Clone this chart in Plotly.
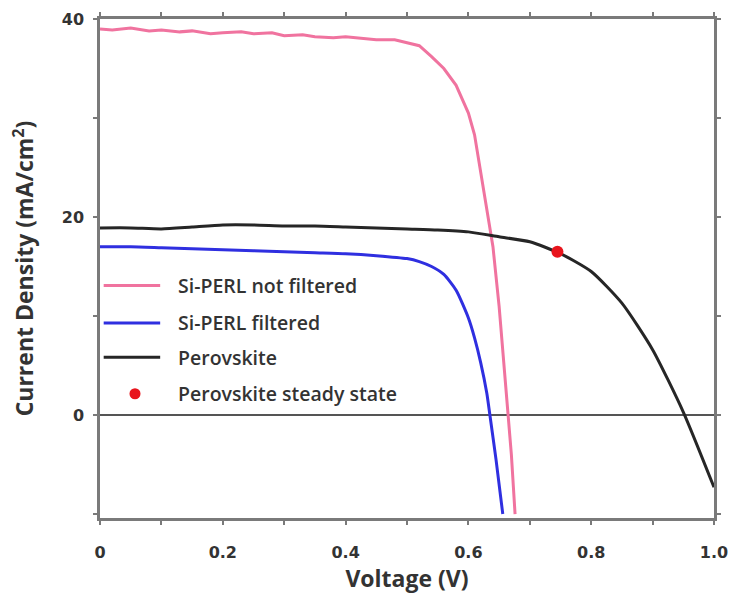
import plotly.graph_objects as go

# J-V curves (voltage in V, current density in mA/cm^2)
v_not_filtered = [0, 0.02, 0.05, 0.08, 0.1, 0.13, 0.15, 0.18, 0.2, 0.23, 0.25, 0.28, 0.3, 0.33,
                  0.35, 0.38, 0.4, 0.43, 0.45, 0.48, 0.5, 0.52, 0.54, 0.56, 0.58, 0.6, 0.61,
                  0.62, 0.63, 0.64, 0.65, 0.66, 0.665, 0.67, 0.676]
j_not_filtered = [39.0, 38.9, 39.1, 38.8, 38.9, 38.7, 38.8, 38.5, 38.6, 38.7, 38.5, 38.6, 38.3, 38.4,
                  38.2, 38.1, 38.2, 38.0, 37.9, 37.9, 37.6, 37.3, 36.2, 35.0, 33.3, 30.5, 28.3,
                  24.5, 20.5, 17.0, 11.0, 3.5, 0.0, -4.0, -10.0]

v_filtered = [0, 0.05, 0.1, 0.15, 0.2, 0.25, 0.3, 0.35, 0.4, 0.45, 0.5, 0.52, 0.54, 0.56,
              0.58, 0.6, 0.61, 0.62, 0.63, 0.635, 0.645, 0.656]
j_filtered = [17.0, 17.0, 16.9, 16.8, 16.7, 16.6, 16.5, 16.4, 16.3, 16.1, 15.8, 15.5, 15.0, 14.2,
              12.6, 9.8, 7.8, 5.3, 2.2, 0.0, -4.5, -10.0]

v_perovskite = [0, 0.05, 0.1, 0.15, 0.2, 0.25, 0.3, 0.35, 0.4, 0.45, 0.5, 0.55, 0.6, 0.65,
                0.7, 0.75, 0.8, 0.85, 0.9, 0.95, 1.0]
j_perovskite = [18.9, 18.9, 18.8, 19.0, 19.2, 19.2, 19.1, 19.1, 19.0, 18.9, 18.8, 18.7, 18.5, 18.0,
                17.5, 16.3, 14.5, 11.3, 6.6, 0.3, -7.3]

v_steady = [0.745]
j_steady = [16.5]

x_tickvals = [0, 0.1, 0.2, 0.3, 0.4, 0.5, 0.6, 0.7, 0.8, 0.9, 1.0]
x_ticktext = ["0", "", "0.2", "", "0.4", "", "0.6", "", "0.8", "", "1.0"]
y_tickvals = [-10, 0, 10, 20, 30, 40]
y_ticktext = ["", "0", "", "20", "", "40"]

legend_names = ["Si-PERL not filtered", "Si-PERL filtered", "Perovskite", "Perovskite steady state"]

PINK = "#f0739f"
BLUE = "#2f2fe0"
BLACK = "#262626"
RED = "#e8141c"
AXIS = "#7a7a7a"
TEXT = "#333333"

fig = go.Figure()
fig.add_trace(go.Scatter(x=v_not_filtered, y=j_not_filtered, mode="lines",
                         line=dict(color=PINK, width=3), name=legend_names[0]))
fig.add_trace(go.Scatter(x=v_filtered, y=j_filtered, mode="lines",
                         line=dict(color=BLUE, width=3, shape="spline", smoothing=0.6),
                         name=legend_names[1]))
fig.add_trace(go.Scatter(x=v_perovskite, y=j_perovskite, mode="lines",
                         line=dict(color=BLACK, width=3, shape="spline", smoothing=0.6),
                         name=legend_names[2]))
fig.add_trace(go.Scatter(x=v_steady, y=j_steady, mode="markers",
                         marker=dict(color=RED, size=12), name=legend_names[3]))

# Hand-drawn legend inside the plot area (paper coordinates)
legend_rows = [0.466, 0.391, 0.322, 0.249]
legend_font = dict(family="Open Sans", size=19.5, color=TEXT, weight=600)
for i, (name, yp) in enumerate(zip(legend_names, legend_rows)):
    if i < 3:
        color = [PINK, BLUE, BLACK][i]
        fig.add_shape(type="line", xref="paper", yref="paper",
                      x0=0.006, x1=0.098, y0=yp, y1=yp,
                      line=dict(color=color, width=3))
    else:
        fig.add_shape(type="circle", xref="paper", yref="paper",
                      x0=0.048, x1=0.066, y0=yp - 0.011, y1=yp + 0.011,
                      fillcolor=RED, line=dict(color=RED, width=0))
    fig.add_annotation(xref="paper", yref="paper", x=0.124, y=yp, text=name,
                       showarrow=False, xanchor="left", yanchor="middle", font=legend_font)

tick_font = dict(family="DejaVu Sans", size=16, color=TEXT, weight="bold")
title_font = dict(family="Open Sans", size=23, color=TEXT, weight="bold")

fig.update_layout(
    width=729, height=596,
    margin=dict(l=100, r=15, t=19, b=78),
    paper_bgcolor="white", plot_bgcolor="white",
    showlegend=False,
    xaxis=dict(range=[0, 1.0], tickvals=x_tickvals, ticktext=x_ticktext, automargin=False,
               showgrid=False, zeroline=False, showline=True, linecolor=AXIS, linewidth=2.5,
               mirror="allticks", ticks="outside", ticklen=4, tickwidth=2, tickcolor=AXIS,
               tickfont=tick_font, ticklabelstandoff=14,
               title=dict(text="Voltage (V)", font=title_font, standoff=6)),
    yaxis=dict(range=[-10.4, 40], tickvals=y_tickvals, ticktext=y_ticktext, automargin=False,
               showgrid=False, zeroline=True, zerolinecolor="#555555", zerolinewidth=1.5,
               showline=True, linecolor=AXIS, linewidth=2.5,
               mirror="allticks", ticks="outside", ticklen=4, tickwidth=2, tickcolor=AXIS,
               tickfont=tick_font, ticklabelstandoff=6,
               title=dict(text="Current Density (mA/cm<sup>2</sup>)", font=title_font, standoff=22)),
)

fig.write_html("out.html")
